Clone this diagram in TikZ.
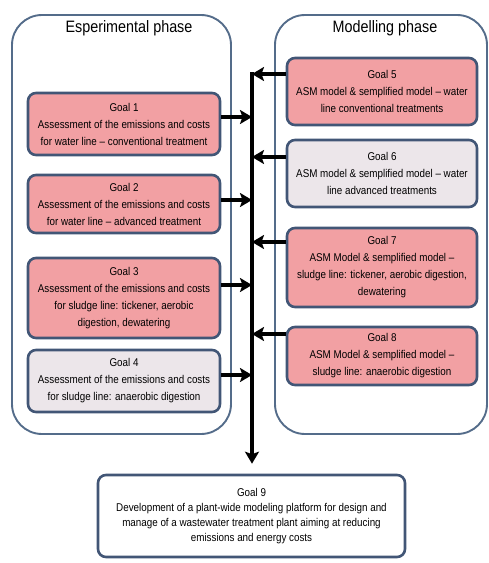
\documentclass[tikz,border=0pt]{standalone}
\usepackage{fontspec}
\setmainfont[FakeStretch=0.87]{Liberation Sans}
\usetikzlibrary{arrows.meta}
\definecolor{goalpink}{RGB}{242,160,163}
\definecolor{goalgrey}{RGB}{236,230,234}
\definecolor{goalline}{RGB}{66,86,118}
\definecolor{phaseline}{RGB}{84,108,138}

\begin{document}
\begin{tikzpicture}[x=1pt, y=-1pt,
  goal/.style={draw=goalline, line width=2.6pt, rounded corners=8pt, fill=goalpink,
    align=center, inner sep=0pt, font=\fontsize{11.3}{17}\selectfont},
  greygoal/.style={goal, fill=goalgrey},
  phase/.style={draw=phaseline, line width=1.9pt, rounded corners=30pt},
  title/.style={font=\fontsize{16.5}{18}\selectfont},
  link/.style={line width=3.2pt, -{Stealth[length=12pt,width=14pt,inset=2.5pt]}}]
  \useasboundingbox (0,0) rectangle (489,563);

  \draw[phase] (12,15) rectangle (231,434);
  \draw[phase] (275,15) rectangle (487,434);
  \node[title] (exptitle) at (129,28) {Esperimental phase};
  \node[title] (modtitle) at (385,28) {Modelling phase};

  \node[goal, minimum width=192pt, minimum height=62pt] (g1) at (124,124)
    {Goal 1\\Assessment of the emissions and costs\\for water line -- conventional treatment};
  \node[goal, minimum width=192pt, minimum height=58pt] (g2) at (124,204)
    {Goal 2\\Assessment of the emissions and costs\\for water line -- advanced treatment};
  \node[goal, minimum width=192pt, minimum height=80pt] (g3) at (124,298)
    {Goal 3\\Assessment of the emissions and costs\\for sludge line: tickener, aerobic\\digestion, dewatering};
  \node[greygoal, minimum width=192pt, minimum height=62pt] (g4) at (124,381)
    {Goal 4\\Assessment of the emissions and costs\\for sludge line: anaerobic digestion};

  \node[goal, minimum width=190pt, minimum height=67pt] (g5) at (382,91.5)
    {Goal 5\\ASM model \& semplified model -- water\\line conventional treatments};
  \node[greygoal, minimum width=190pt, minimum height=67pt] (g6) at (382,173.5)
    {Goal 6\\ASM model \& semplified model -- water\\line advanced treatments};
  \node[goal, minimum width=190pt, minimum height=79pt] (g7) at (382,267.5)
    {Goal 7\\ASM Model \& semplified model --\\sludge line: tickener, aerobic digestion,\\dewatering};
  \node[goal, minimum width=190pt, minimum height=58pt] (g8) at (382,356)
    {Goal 8\\ASM Model \& semplified model --\\sludge line: anaerobic digestion};

  \node[goal, fill=white, minimum width=307pt, minimum height=82pt,
    font=\fontsize{11.3}{15}\selectfont] (g9) at (251.5,516)
    {Goal 9\\Development of a plant-wide modeling platform for design and\\manage of a wastewater treatment plant aiming at reducing\\emissions and energy costs};

  \coordinate (j5) at (252,74);
  \coordinate (j1) at (252,117);
  \coordinate (j6) at (252,157);
  \coordinate (j2) at (252,200);
  \coordinate (j7) at (252,242);
  \coordinate (j3) at (252,285);
  \coordinate (j8) at (252,334);
  \coordinate (j4) at (252,375);

  \draw[link, shorten >=10pt] ([yshift=1.6pt]j5) -- (j5 |- g9.north);
  \foreach \g in {1,2,3,4} \draw[link] (g\g.east |- j\g) -- (j\g);
  \foreach \g in {5,6,7,8} \draw[link] (g\g.west |- j\g) -- (j\g);
\end{tikzpicture}
\end{document}
